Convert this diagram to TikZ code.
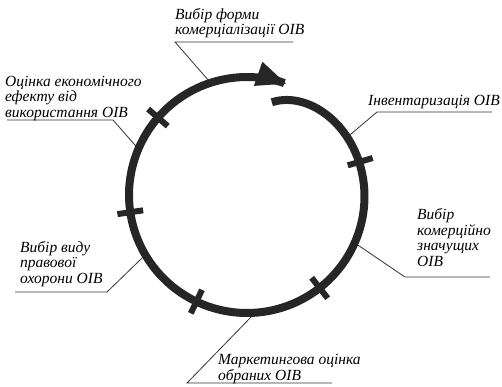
\documentclass[tikz,border=0pt]{standalone}
\usepackage{fontspec}
\setmainfont{Liberation Serif}
\usetikzlibrary{arrows.meta}

\tikzset{
  stage/.style={align=left, anchor=base west, inner sep=0pt, font=\itshape\fontsize{15.5}{15.5}\selectfont},
  leader/.style={line width=0.8pt, black!80},
  ring/.style={line width=8pt, black!85},
  tick/.style={line width=6pt, black!85},
}

\begin{document}
\begin{tikzpicture}[x=1pt,y=1pt]
    \useasboundingbox (0,0) rectangle (502,386);
    \coordinate (c) at (247,191);

    \node[stage] (form) at (175,351) {Вибір форми\\комерціалізації ОІВ};
    \node[stage] (effect) at (5,269) {Оцінка економічного\\ефекту від\\використання ОІВ};
    \node[stage] (inventory) at (368,280) {Інвентаризація ОІВ};
    \node[stage] (select) at (417,120) {Вибір\\комерційно\\значущих\\ОІВ};
    \node[stage] (protect) at (20,103) {Вибір виду\\правової\\охорони ОІВ};
    \node[stage] (market) at (218,6) {Маркетингова оцінка\\обраних ОІВ};

    \coordinate (form-p) at ([shift={(108:118)}]c);
    \coordinate (form-a) at (175,344);
    \coordinate (form-b) at (293,344);
    \coordinate (effect-p) at ([shift={(157:118)}]c);
    \coordinate (effect-a) at (113,266);
    \coordinate (effect-b) at (7,266);
    \coordinate (inventory-p) at ([shift={(30:116)}]c);
    \coordinate (inventory-a) at (377,274);
    \coordinate (inventory-b) at (492,274);
    \coordinate (select-p) at ([shift={(-24:118)}]c);
    \coordinate (select-a) at (405,109);
    \coordinate (select-b) at (490,109);
    \coordinate (protect-p) at ([shift={(210.5:118)}]c);
    \coordinate (protect-a) at (107,94);
    \coordinate (protect-b) at (15,94);
    \coordinate (market-p) at ([shift={(-86:118)}]c);
    \coordinate (market-a) at (187,3);
    \coordinate (market-b) at (332,3);

    \draw[leader] (form-p) -- (form-a) -- (form-b);
    \draw[leader] (effect-p) -- (effect-a) -- (effect-b);
    \draw[leader] (inventory-p) -- (inventory-a) -- (inventory-b);
    \draw[leader] (select-p) -- (select-a) -- (select-b);
    \draw[leader] (protect-p) -- (protect-a) -- (protect-b);
    \draw[leader] (market-p) -- (market-a) -- (market-b);

    \draw[ring, -{Triangle[length=31pt,width=23pt]}] plot[domain=75:-290, samples=200, smooth, variable=\t]
        ({247+(118-22*exp(max(-(75-\t)/20,-8)))*cos(\t)}, {191+(118-22*exp(max(-(75-\t)/20,-8)))*sin(\t)});

    \foreach \a in {139,188.4,244.6,308,16.4}
        \draw[tick] ([shift={(\a:105)}]c) -- ([shift={(\a:131)}]c);
\end{tikzpicture}
\end{document}
